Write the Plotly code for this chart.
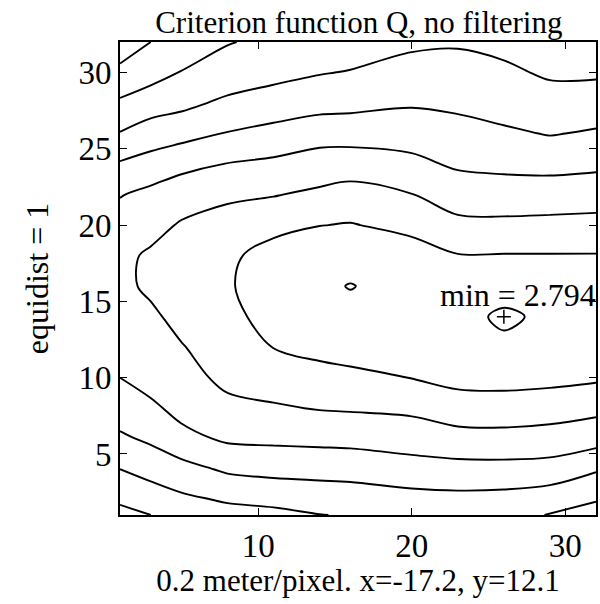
import numpy as np
import plotly.graph_objects as go

# grid positions (pixel index units)
x_grid = [1, 3, 5, 8, 11, 14, 16, 20, 23, 26, 29, 32]
y_grid = [1, 2, 4, 6, 8, 10, 12, 14, 16, 18, 20, 22, 24, 26, 28, 30, 32]

# estimated criterion values Q, one list per x column (bottom -> top)
q_x1 = [9.3, 8.85, 8.0, 7.15, 6.55, 6.0, 5.7, 5.45, 5.2, 5.25, 5.6, 6.05, 6.9, 7.95, 8.85, 9.75, 10.6]
q_x3 = [9.0, 8.6, 7.6, 6.85, 6.2, 5.6, 5.3, 5.15, 4.85, 4.85, 5.35, 5.75, 6.6, 7.55, 8.45, 9.4, 10.0]
q_x5 = [8.6, 8.2, 7.35, 6.3, 5.7, 5.3, 5.05, 4.75, 4.5, 4.55, 4.9, 5.5, 6.25, 7.35, 8.25, 8.95, 9.8]
q_x8 = [8.35, 7.9, 6.85, 5.85, 5.2, 4.8, 4.55, 4.3, 4.12, 4.2, 4.55, 5.2, 5.97, 6.95, 7.8, 8.6, 9.05]
q_x11 = [8.25, 7.75, 6.7, 5.8, 5.1, 4.55, 3.98, 3.6, 3.4, 3.6, 4.3, 5.05, 5.8, 6.7, 7.55, 8.3, 8.8]
q_x14 = [8.02, 7.6, 6.65, 5.75, 4.95, 4.3, 3.75, 3.35, 3.15, 3.35, 4.02, 4.8, 5.6, 6.35, 7.4, 8.05, 8.7]
q_x16 = [7.95, 7.55, 6.6, 5.72, 4.9, 4.22, 3.62, 3.22, 2.97, 3.3, 3.95, 4.62, 5.5, 6.4, 7.3, 7.95, 8.5]
q_x20 = [7.85, 7.35, 6.4, 5.55, 4.8, 3.98, 3.55, 3.3, 3.3, 3.6, 4.25, 4.98, 5.75, 6.45, 7.1, 7.6, 8.2]
q_x23 = [7.8, 7.3, 6.3, 5.4, 4.4, 3.75, 3.35, 3.4, 3.4, 3.95, 4.8, 5.4, 6.15, 6.65, 7.2, 7.65, 8.1]
q_x26 = [7.85, 7.35, 6.3, 5.35, 4.4, 3.7, 3.25, 2.794, 3.5, 3.95, 4.8, 5.5, 6.25, 6.85, 7.4, 7.8, 8.3]
q_x29 = [8.02, 7.6, 6.35, 5.45, 4.5, 3.75, 3.3, 3.25, 3.35, 3.95, 4.75, 5.5, 6.3, 7.05, 7.55, 8.15, 8.6]
q_x32 = [8.35, 7.95, 6.9, 5.6, 4.75, 3.85, 3.4, 3.3, 3.45, 3.95, 4.7, 5.45, 6.2, 6.9, 7.5, 8.15, 8.7]

columns = [q_x1, q_x3, q_x5, q_x8, q_x11, q_x14, q_x16, q_x20, q_x23, q_x26, q_x29, q_x32]
Z = np.array(columns).T  # rows = y, cols = x

x_ticks = [10, 20, 30]
y_ticks = [5, 10, 15, 20, 25, 30]

title_text = "Criterion function Q, no filtering"
x_label = "0.2 meter/pixel. x=-17.2, y=12.1"
y_label = "equidist = 1"

iy, ix = np.unravel_index(np.argmin(Z), Z.shape)
x_min, y_min, q_min = x_grid[ix], y_grid[iy], Z[iy, ix]

FONT = "Liberation Serif, Times New Roman, serif"

fig = go.Figure()
fig.add_trace(go.Contour(
    x=x_grid, y=y_grid, z=Z,
    contours=dict(start=3, end=10, size=1, coloring="lines"),
    colorscale=[[0, "black"], [1, "black"]],
    line=dict(width=1.9, smoothing=1.0),
    showscale=False,
    hoverinfo="skip",
))
fig.add_trace(go.Scatter(
    x=[x_min], y=[y_min], mode="markers",
    marker=dict(symbol="cross-thin", size=10, line=dict(color="black", width=1.5)),
    showlegend=False, hoverinfo="skip",
))
fig.add_annotation(
    x=32, y=y_min, xref="x", yref="y",
    text=f"min = {q_min:.3f}", showarrow=False,
    xanchor="right", yanchor="bottom", yshift=2, xshift=2,
    font=dict(family=FONT, size=32, color="black"),
)

axis_common = dict(
    showline=True, linecolor="black", linewidth=1.8, mirror="ticks",
    ticks="inside", ticklen=7, tickwidth=1.3, tickcolor="black",
    showgrid=False, zeroline=False,
    tickfont=dict(family=FONT, size=33, color="black"),
)

fig.update_layout(
    width=600, height=604,
    margin=dict(l=120, r=2, t=42, b=89),
    paper_bgcolor="white", plot_bgcolor="white",
    showlegend=False,
    title=dict(text=title_text, x=0.598, xanchor="center", y=0.964, yanchor="middle",
               font=dict(family=FONT, size=31, color="black")),
    xaxis=dict(range=[1, 32], tickvals=x_ticks, **axis_common,
               title=dict(text=x_label, standoff=6, font=dict(family=FONT, size=31, color="black"))),
    yaxis=dict(range=[1, 32], tickvals=y_ticks, **axis_common,
               title=dict(text=y_label, standoff=20, font=dict(family=FONT, size=32, color="black"))),
)

fig.write_html("out.html")
